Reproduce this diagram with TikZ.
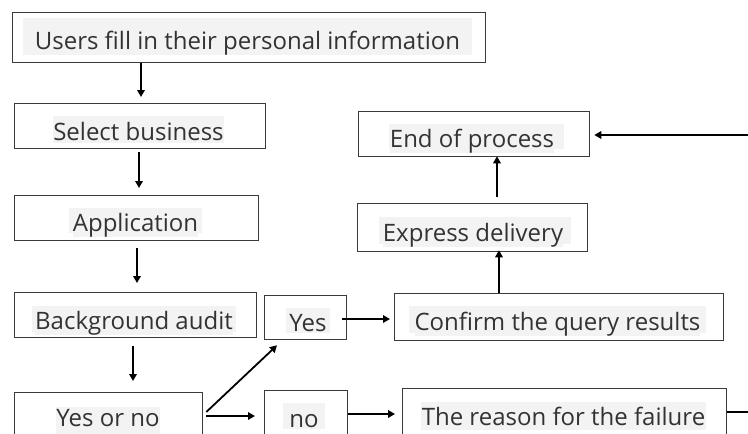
\documentclass[tikz,border=0pt]{standalone}
\usepackage{fontspec}
\setmainfont{Open Sans}
\usetikzlibrary{arrows.meta}
\definecolor{txt}{HTML}{333333}
\definecolor{hl}{HTML}{F3F3F3}
\definecolor{bd}{HTML}{3A3A3A}
\tikzset{
  box/.style={draw=bd, line width=1.3pt, rectangle, inner sep=0pt},
  lbl/.style={fill=hl, text=txt, inner sep=0pt, font=\fontsize{24}{24}\selectfont},
  arr/.style={line width=1.8pt, -{Triangle[length=7pt,width=7.5pt]}},
  ln/.style={line width=1.8pt}
}
\newcommand{\sq}[1]{\scalebox{1.0}[1]{#1}}
\begin{document}
\begin{tikzpicture}[x=1pt,y=-1pt]
\useasboundingbox (0,0) rectangle (748,434);
% boxes: corners in pixel coords
\node[box, minimum width=473pt, minimum height=50pt, anchor=north west] (b1) at (12,12) {};
\node[box, minimum width=251pt, minimum height=45pt, anchor=north west] (b2) at (14,103) {};
\node[box, minimum width=244pt, minimum height=45pt, anchor=north west] (b3) at (14,195) {};
\node[box, minimum width=242pt, minimum height=45pt, anchor=north west] (b4) at (14,292) {};
\node[box, minimum width=188pt, minimum height=60pt, anchor=north west] (b5) at (14,392) {};
\node[box, minimum width=82pt, minimum height=44pt, anchor=north west] (yes) at (264,295) {};
\node[box, minimum width=83pt, minimum height=60pt, anchor=north west] (no) at (264,390) {};
\node[box, minimum width=329pt, minimum height=47pt, anchor=north west] (conf) at (394,293) {};
\node[box, minimum width=324pt, minimum height=60pt, anchor=north west] (fail) at (402,388) {};
\node[box, minimum width=230pt, minimum height=48pt, anchor=north west] (expr) at (357,203) {};
\node[box, minimum width=231pt, minimum height=45pt, anchor=north west] (end) at (358,111) {};
% labels (highlighted text)
\fill[hl] (23,18) rectangle (472,55);
\node[lbl, anchor=base] (t1) at (247.5,49) {\sq{Users fill in their personal information}};
\fill[hl] (53,116) rectangle (224,143);
\node[lbl, anchor=base] (t2) at (138.5,140) {\sq{Select business}};
\fill[hl] (69,208) rectangle (202,233);
\node[lbl, anchor=base] (t3) at (135.5,231) {\sq{Application}};
\fill[hl] (32,306) rectangle (236,332);
\node[lbl, anchor=base] (t4) at (134,329) {\sq{Background audit}};
\fill[hl] (56,407) rectangle (160,440);
\node[lbl, anchor=base] (t5) at (108,426) {\sq{Yes or no}};
\fill[hl] (286,308) rectangle (330,333);
\node[lbl, anchor=base] (t6) at (308,331) {\sq{Yes}};
\fill[hl] (283,403) rectangle (325,429);
\node[lbl, anchor=base] (t7) at (304,427) {\sq{no}};
\fill[hl] (409,306) rectangle (706,333);
\node[lbl, anchor=base] (t8) at (557.5,330) {\sq{Confirm the query results}};
\fill[hl] (421,402) rectangle (706,430);
\node[lbl, anchor=base] (t9) at (563.5,425) {\sq{The reason for the failure}};
\fill[hl] (379,217) rectangle (571,244);
\node[lbl, anchor=base] (t10) at (473,241) {\sq{Express delivery}};
\fill[hl] (389,124) rectangle (564,149);
\node[lbl, anchor=base] (t11) at (472,147) {\sq{End of process}};
% connectors
\draw[arr] ([xshift=129pt]b1.south west) -- ([xshift=127pt,yshift=6pt]b2.north west);
\draw[arr] ([xshift=125pt,yshift=-3pt]b2.south west) -- ([xshift=125pt,yshift=7pt]b3.north west);
\draw[arr] ([xshift=123pt,yshift=-7pt]b3.south west) -- ([xshift=123pt,yshift=9pt]b4.north west);
\draw[arr] ([xshift=119pt,yshift=-8pt]b4.south west) -- ([xshift=119pt,yshift=11pt]b5.north west);
\draw[arr] ([xshift=3pt,yshift=-20pt]b5.north east) -- ([xshift=13pt,yshift=-5pt]yes.south west);
\draw[arr] ([xshift=3pt,yshift=-24pt]b5.north east) -- ([xshift=-9pt,yshift=-26pt]no.north west);
\draw[arr] ([xshift=-5pt,yshift=-24pt]yes.north east) -- ([xshift=-4pt,yshift=-26pt]conf.north west);
\draw[arr] ([yshift=-24pt]no.north east) -- ([xshift=-7pt,yshift=-26pt]fail.north west);
\draw[arr] ([xshift=105pt]conf.north west) -- ([xshift=142pt,yshift=2pt]expr.south west);
\draw[arr] ([xshift=140pt,yshift=6pt]expr.north west) -- ([xshift=139pt,yshift=1pt]end.south west);
\coordinate (r1) at (770,412);
\coordinate (r2) at (770,135);
\draw[ln] ([yshift=-24pt]fail.north east) -- (r1) -- (r2);
\draw[arr] (r2) -- ([xshift=4pt,yshift=-24pt]end.north east);
\end{tikzpicture}
\end{document}
